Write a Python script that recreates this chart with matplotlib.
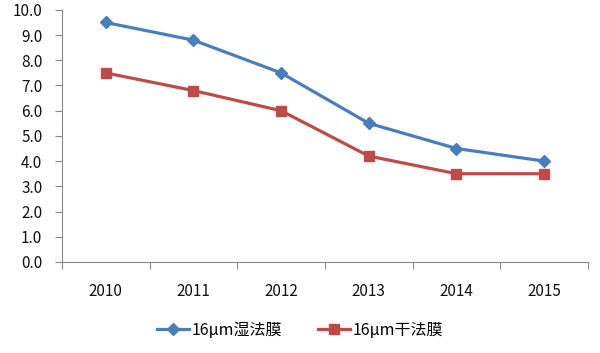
import matplotlib
matplotlib.use('Agg')
import matplotlib.pyplot as plt
import numpy as np

plt.rcParams['font.family'] = ['Noto Sans CJK SC', 'DejaVu Sans']
plt.rcParams['font.weight'] = 'medium'

years = ['2010', '2011', '2012', '2013', '2014', '2015']
wet = [9.5, 8.8, 7.5, 5.5, 4.5, 4.0]
dry = [7.5, 6.8, 6.0, 4.2, 3.5, 3.5]
labels = ['16μm湿法膜', '16μm干法膜']

fig = plt.figure(figsize=(6, 3.53), dpi=100)
ax = fig.add_axes([0.103, 0.258, 0.877, 0.714])

x = np.arange(len(years))
ax.plot(x, wet, color='#4A7EBB', lw=2.3, marker='D', ms=6.5, label=labels[0])
ax.plot(x, dry, color='#BE4B48', lw=2.3, marker='s', ms=7.5, label=labels[1])

ax.set_xlim(-0.5, len(years) - 0.5)
ax.set_ylim(0, 10)
ax.set_yticks(np.arange(0, 10.1, 1.0))
ax.set_yticklabels(['%.1f' % v for v in np.arange(0, 10.1, 1.0)])

ax.set_xticks(np.arange(-0.5, len(years), 1.0))
ax.set_xticklabels([])
ax.set_xticks(x, minor=True)
ax.set_xticklabels(years, minor=True)
ax.tick_params(axis='x', which='major', length=5, color='#878787', direction='out')
ax.tick_params(axis='x', which='minor', length=0, pad=15, labelsize=11, labelcolor='#111111')
ax.tick_params(axis='y', length=5, color='#878787', labelsize=11, labelcolor='#111111', pad=9)

for s in ['top', 'right']:
    ax.spines[s].set_visible(False)
for s in ['left', 'bottom']:
    ax.spines[s].set_color('#878787')

fig.legend(loc='center', bbox_to_anchor=(0.5, 0.065), ncol=2, frameon=False,
           handlelength=2, columnspacing=2.2, handletextpad=0.2,
           prop={'size': 11.5, 'weight': 'medium'})

fig.savefig('out.png', dpi=100, facecolor='white')
